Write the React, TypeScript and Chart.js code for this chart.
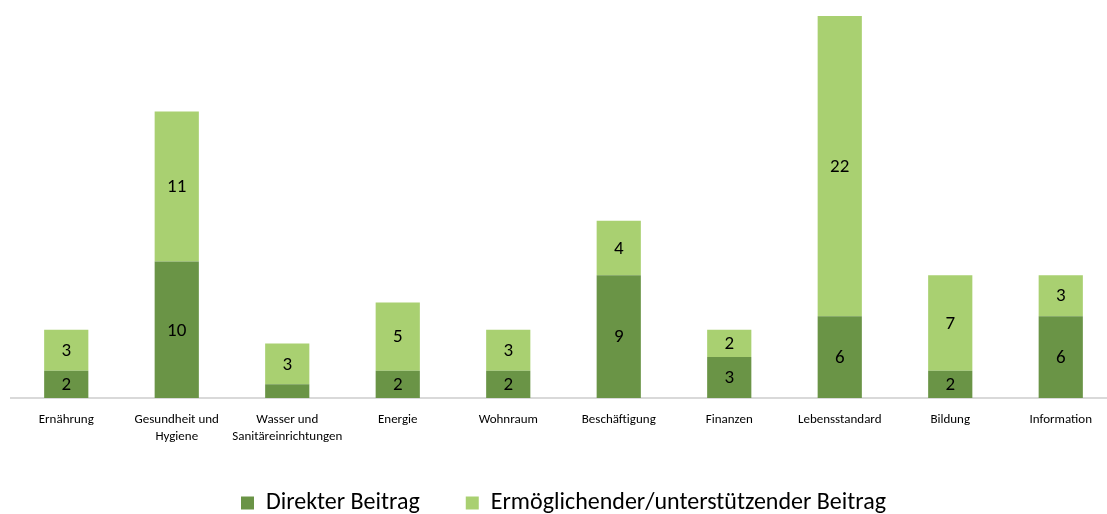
import React, { useEffect, useRef } from "react";
import { Chart, registerables } from "chart.js";

Chart.register(...registerables);

const categories: (string | string[])[] = [
  "Ernährung",
  ["Gesundheit und", "Hygiene"],
  ["Wasser und", "Sanitäreinrichtungen"],
  "Energie",
  "Wohnraum",
  "Beschäftigung",
  "Finanzen",
  "Lebensstandard",
  "Bildung",
  "Information",
];
const direktValues = [2, 10, 1, 2, 2, 9, 3, 6, 2, 6];
const ermoeglichendValues = [3, 11, 3, 5, 3, 4, 2, 22, 7, 3];
const seriesNames = ["Direkter Beitrag", "Ermöglichender/unterstützender Beitrag"];

const FONT = "Carlito, Calibri, Lato, sans-serif";

const labelPlugin = {
  id: "segLabels",
  afterDatasetsDraw(chart: any) {
    const ctx = chart.ctx;
    ctx.save();
    ctx.font = `19px ${FONT}`;
    ctx.fillStyle = "#000";
    ctx.textAlign = "center";
    ctx.textBaseline = "middle";
    chart.data.datasets.forEach((ds: any, di: number) => {
      const meta = chart.getDatasetMeta(di);
      meta.data.forEach((el: any, i: number) => {
        const v = ds.data[i];
        if (v < 2) return;
        const y = (el.y + el.base) / 2;
        ctx.fillText(String(v), el.x, y + 1);
      });
    });
    ctx.restore();
  },
};

export default function App() {
  const ref = useRef<HTMLCanvasElement>(null);
  useEffect(() => {
    if (!ref.current) return;
    const chart = new Chart(ref.current, {
      type: "bar",
      data: {
        labels: categories,
        datasets: [
          {
            label: seriesNames[0],
            data: direktValues,
            backgroundColor: "#6A9446",
            barPercentage: 0.4,
            categoryPercentage: 1,
          },
          {
            label: seriesNames[1],
            data: ermoeglichendValues,
            backgroundColor: "#A9D071",
            barPercentage: 0.4,
            categoryPercentage: 1,
          },
        ],
      },
      options: {
        animation: false,
        responsive: false,
        maintainAspectRatio: false,
        layout: { padding: { top: 16, left: 11, right: 0, bottom: 0 } },
        plugins: {
          legend: {
            position: "bottom",
            labels: {
              boxWidth: 13,
              boxHeight: 13,
              padding: 46,
              color: "#000",
              font: { size: 24, family: FONT },
            },
          },
          tooltip: { enabled: false },
        },
        scales: {
          x: {
            stacked: true,
            grid: { display: false, drawTicks: false },
            border: { display: true, color: "#D9D9D9", width: 2 },
            ticks: {
              color: "#000",
              padding: 13,
              maxRotation: 0,
              autoSkip: false,
              font: { size: 13, family: FONT, lineHeight: 1.3 },
            },
            afterFit: (scale: any) => {
              scale.height = 47;
            },
          },
          y: {
            stacked: true,
            display: false,
            min: 0,
            max: 28,
          },
        },
      },
      plugins: [labelPlugin],
    });
    return () => chart.destroy();
  }, []);
  return (
    <div style={{ position: "fixed", left: 0, top: 0, width: 1116, height: 525, background: "#fff" }}>
      <canvas ref={ref} width={1116} height={525} style={{ display: "block" }} />
    </div>
  );
}
